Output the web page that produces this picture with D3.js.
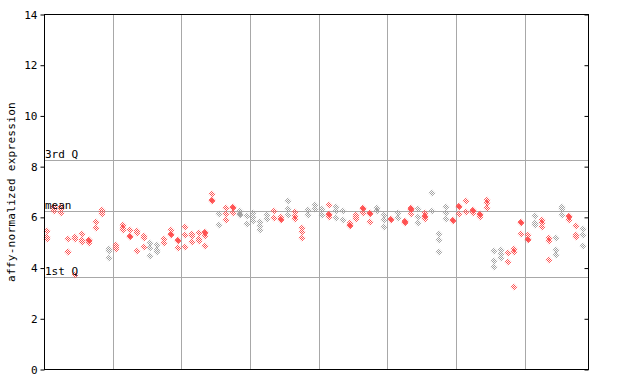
<!DOCTYPE html>
<html>
<head>
<meta charset="utf-8">
<script src="https://cdn.jsdelivr.net/npm/d3@7"></script>
<style>
  html, body { margin: 0; padding: 0; background: #fff; }
  svg { display: block; }
  text { font-family: "DejaVu Sans Mono", "Liberation Mono", monospace; font-size: 11px; fill: #000; }
</style>
</head>
<body>
<svg id="chart" width="640" height="384"></svg>
<script>
// ---- data ----
const yTicks = [0, 2, 4, 6, 8, 10, 12, 14];
const yLabel = "affy-normalized expression";
const refLines = [
  { name: "3rd Q", value: 8.24 },
  { name: "mean", value: 6.23 },
  { name: "1st Q", value: 3.63 }
];
// one entry per sample column; replicate values
const sampleValues = [
  [5.44, 5.21, 5.13], [6.40, 6.38, 6.32, 6.23], [6.40, 6.31, 6.15], [5.13, 4.63, 4.60], [5.21, 5.13, 3.72],
  [5.32, 5.09, 5.01], [5.10, 5.07, 5.05, 4.98], [5.80, 5.56], [6.27, 6.19, 6.11], [4.73, 4.65, 4.38],
  [4.89, 4.81, 4.73], [5.68, 5.56, 5.48], [5.48, 5.23, 5.19], [5.44, 5.36, 4.65], [5.25, 5.17, 4.81],
  [4.97, 4.77, 4.46], [4.89, 4.69, 4.61], [5.13, 4.97], [5.48, 5.34, 5.30], [5.09, 5.05, 4.76],
  [5.60, 5.28, 4.81], [5.32, 5.24, 5.01], [5.36, 5.13, 5.05], [5.42, 5.38, 5.24, 4.85], [6.90, 6.66, 6.62],
  [6.11, 5.68], [6.35, 6.11, 5.88], [6.38, 6.34, 6.15], [6.23, 6.13, 6.09], [6.03, 5.72],
  [6.15, 5.99, 5.84], [5.80, 5.64, 5.48], [6.07, 5.91], [6.23, 5.95], [5.99, 5.90, 5.86],
  [6.63, 6.31, 6.07], [6.19, 6.03, 5.91], [5.56, 5.40, 5.17], [6.27, 6.07], [6.47, 6.31],
  [6.31, 6.07], [6.47, 6.13, 6.09, 5.99], [6.39, 6.23, 5.95], [6.23, 5.88], [5.76, 5.66, 5.62],
  [6.07, 5.99, 5.91], [6.34, 6.30, 6.15], [6.17, 6.13, 5.80], [6.35, 6.23], [6.07, 5.88, 5.60],
  [5.92, 5.88], [6.14, 5.94], [5.84, 5.80, 5.74], [6.36, 6.32, 6.28, 6.10], [6.30, 5.98, 5.74],
  [6.15, 6.05, 6.01, 5.90], [6.93, 6.22], [5.31, 5.09, 4.60], [6.38, 6.14, 5.90], [5.87, 5.83],
  [6.42, 6.38, 6.11], [6.61, 6.19], [6.29, 6.25, 6.15], [6.12, 6.08, 5.98], [6.66, 6.53, 6.34],
  [4.64, 4.25, 4.01], [4.69, 4.53, 4.36], [4.56, 4.21], [4.72, 4.61, 3.22], [5.79, 5.75, 5.31],
  [5.27, 5.13, 5.09], [6.02, 5.76, 5.67], [5.86, 5.74, 5.61], [5.17, 5.05, 4.30], [5.15, 4.69, 4.48],
  [6.40, 6.31, 6.06], [6.05, 6.01, 5.86], [5.64, 5.30, 5.19], [5.51, 5.27, 4.84]
];
// colour class per sample column: 1 = red, 0 = grey
const sampleColor = [
  1, 1, 1, 1, 1, 1, 1, 1, 1, 0,
  1, 1, 1, 1, 1, 0, 0, 1, 1, 1,
  1, 1, 1, 1, 1, 0, 1, 1, 0, 0,
  0, 0, 0, 1, 1, 0, 1, 1, 0, 0,
  0, 1, 0, 0, 1, 1, 1, 1, 0, 0,
  1, 0, 1, 1, 0, 1, 0, 0, 0, 1,
  1, 1, 1, 1, 1, 0, 0, 1, 1, 1,
  1, 0, 1, 1, 0, 0, 1, 1, 0
];
const gridEvery = 10;

// ---- layout ----
const svg = d3.select("#chart");
const mLeft = 44, mRight = 588, mTop = 14, mBottom = 369;
const plotRight = 586.5;

const x = d3.scaleBand().domain(d3.range(sampleValues.length)).range([mLeft, plotRight]).padding(0);
const y = d3.scaleLinear().domain([0, 14]).range([mBottom, mTop]);

// checker patterns
const defs = svg.append("defs");
const palette = { red: "#ff5050", grey: "#a0a0a0" };
Object.entries(palette).forEach(([k, c]) => {
  const p = defs.append("pattern").attr("id", "chk-" + k)
    .attr("patternUnits", "userSpaceOnUse").attr("width", 2).attr("height", 2);
  p.append("rect").attr("x", 0).attr("y", 0).attr("width", 1).attr("height", 1).attr("fill", c);
  p.append("rect").attr("x", 1).attr("y", 1).attr("width", 1).attr("height", 1).attr("fill", c);
});

// vertical grid lines
const gridIdx = d3.range(gridEvery, sampleValues.length, gridEvery);
svg.append("g").selectAll("line").data(gridIdx).join("line")
  .attr("x1", d => Math.round(x(d)) + 0.5).attr("x2", d => Math.round(x(d)) + 0.5)
  .attr("y1", mTop).attr("y2", mBottom)
  .attr("stroke", "#a8a8a8").attr("stroke-width", 1);

// reference horizontal lines
svg.append("g").selectAll("line").data(refLines).join("line")
  .attr("x1", mLeft).attr("x2", mRight)
  .attr("y1", d => Math.round(y(d.value)) + 0.5).attr("y2", d => Math.round(y(d.value)) + 0.5)
  .attr("stroke", "#a8a8a8").attr("stroke-width", 1);

// points
const pts = [];
sampleValues.forEach((vals, i) => vals.forEach(v => pts.push({ i, v, c: sampleColor[i] })));
const diamond = "M0,-3.5L3.5,0L0,3.5L-3.5,0Z";
svg.append("g").selectAll("path").data(pts).join("path")
  .attr("d", diamond)
  .attr("transform", d => `translate(${Math.round(x(d.i) + x.bandwidth() / 2)},${Math.round(y(d.v))})`)
  .attr("fill", d => d.c ? "url(#chk-red)" : "url(#chk-grey)");

// reference line labels
svg.append("g").selectAll("text").data(refLines).join("text")
  .attr("x", mLeft + 1)
  .attr("y", d => Math.round(y(d.value)) - 2)
  .text(d => d.name);

// frame
svg.append("rect").attr("x", mLeft + 0.5).attr("y", mTop + 0.5)
  .attr("width", mRight - mLeft).attr("height", mBottom - mTop)
  .attr("fill", "none").attr("stroke", "#000").attr("stroke-width", 1);

// left axis
const yAxis = d3.axisLeft(y).tickValues(yTicks).tickSize(4).tickPadding(3).tickFormat(d3.format("d"));
const ga = svg.append("g").attr("transform", `translate(${mLeft + 0.5},0.5)`).call(yAxis);
ga.select(".domain").remove();
ga.selectAll("text").style("font-family", "DejaVu Sans Mono, monospace").style("font-size", "11px");

// right axis (inward ticks)
const yAxisR = d3.axisLeft(y).tickValues(yTicks).tickSize(4).tickFormat("");
const gr = svg.append("g").attr("transform", `translate(${mRight + 0.5},0.5)`).call(yAxisR);
gr.select(".domain").remove();
gr.selectAll("line").attr("x2", -4);

// y label
svg.append("text")
  .attr("transform", `translate(15,192) rotate(-90)`)
  .attr("text-anchor", "middle")
  .style("letter-spacing", "0.3px")
  .text(yLabel);
</script>
</body>
</html>
